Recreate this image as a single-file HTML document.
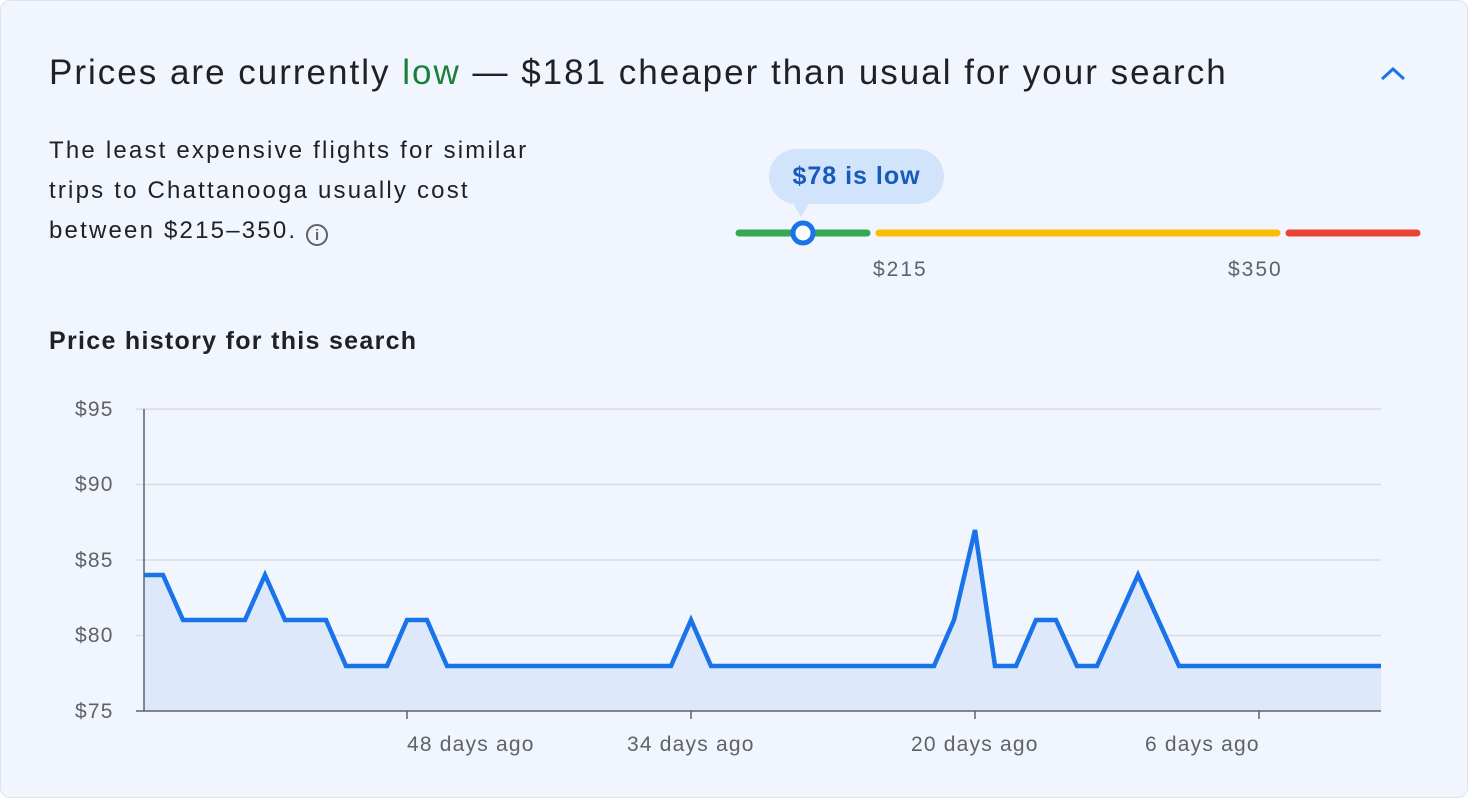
<!DOCTYPE html>
<html><head><meta charset="utf-8"><style>
html,body{margin:0;padding:0;background:#fff;}
.card{position:absolute;left:0;top:0;width:1466px;height:796px;border:1px solid #dfe3ea;border-radius:10px;background:#f1f6fe;font-family:"Liberation Sans",sans-serif;overflow:hidden;}
.t{position:absolute;white-space:nowrap;}
.ax{font-size:21px;color:#5f6368;letter-spacing:1.2px;}
</style></head><body>
<div class="card">
<div class="t" style="left:48px;top:52px;font-size:35px;color:#202124;letter-spacing:2px;">Prices are currently <span style="color:#188038">low</span> — $181 cheaper than usual for your search</div>
<svg style="position:absolute;left:1376px;top:62px" width="32" height="24"><polyline points="5,16 16,6 27,16" fill="none" stroke="#1a73e8" stroke-width="3"/></svg>
<div class="t" style="left:48px;top:130px;font-size:24px;line-height:40px;color:#202124;letter-spacing:2.2px;">The least expensive flights for similar<br>trips to Chattanooga usually cost<br>between $215–350. <span style="display:inline-block;width:22px;height:22px;border:2px solid #5f6368;border-radius:50%;font-size:15px;line-height:19px;text-align:center;vertical-align:-2px;color:#5f6368;box-sizing:border-box;font-weight:bold;letter-spacing:0">i</span></div>
<div class="t" style="left:768px;top:148px;width:175px;height:55px;border-radius:28px;background:#d2e3fc;color:#185abc;font-size:25px;font-weight:bold;line-height:55px;text-align:center;letter-spacing:1px;">$78 is low</div>
<svg style="position:absolute;left:0;top:0" width="1468" height="798">
<polygon points="792,202 808,202 800,216" fill="#d2e3fc"/>
<line x1="738" y1="232" x2="866" y2="232" stroke="#34a853" stroke-width="7" stroke-linecap="round"/>
<line x1="878" y1="232" x2="1276" y2="232" stroke="#fbbc04" stroke-width="7" stroke-linecap="round"/>
<line x1="1288" y1="232" x2="1416" y2="232" stroke="#ea4335" stroke-width="7" stroke-linecap="round"/>
<circle cx="802" cy="232" r="10" fill="#fff" stroke="#1a73e8" stroke-width="5"/>
<g stroke="#dadce0" stroke-width="1.5">
<line x1="135" y1="408" x2="1380" y2="408"/><line x1="135" y1="483.5" x2="1380" y2="483.5"/><line x1="135" y1="559" x2="1380" y2="559"/><line x1="135" y1="634.5" x2="1380" y2="634.5"/>
</g>
<polygon fill="#dde9fa" points="143,710 143,574 162,574 182,619 244,619 264,574 284,619 325,619 345,665 386,665 406,619 426,619 446,665 670,665 690,619 710,665 933,665 953,619 974,529 994,665 1015,665 1035,619 1055,619 1076,665 1096,665 1137,574 1178,665 1380,665 1380,710"/>
<polyline fill="none" stroke="#1a73e8" stroke-width="4.5" stroke-linejoin="miter" points="143,574 162,574 182,619 244,619 264,574 284,619 325,619 345,665 386,665 406,619 426,619 446,665 670,665 690,619 710,665 933,665 953,619 974,529 994,665 1015,665 1035,619 1055,619 1076,665 1096,665 1137,574 1178,665 1380,665"/>
<g stroke="#5f6368" stroke-width="1.5">
<line x1="143" y1="408" x2="143" y2="710"/><line x1="135" y1="710" x2="1380" y2="710"/>
<line x1="406" y1="710" x2="406" y2="718"/><line x1="690" y1="710" x2="690" y2="718"/><line x1="974" y1="710" x2="974" y2="718"/><line x1="1258" y1="710" x2="1258" y2="718"/>
</g>
</svg>
<div class="t" style="left:872px;top:257px;font-size:21px;color:#5f6368;letter-spacing:2px;">$215</div>
<div class="t" style="left:1227px;top:257px;font-size:21px;color:#5f6368;letter-spacing:2px;">$350</div>
<div class="t" style="left:48px;top:326px;font-size:25px;font-weight:bold;color:#202124;letter-spacing:1.3px;">Price history for this search</div>
<div class="t ax" style="left:74px;top:397px;">$95</div>
<div class="t ax" style="left:74px;top:472px;">$90</div>
<div class="t ax" style="left:74px;top:548px;">$85</div>
<div class="t ax" style="left:74px;top:623px;">$80</div>
<div class="t ax" style="left:74px;top:699px;">$75</div>
<div class="t ax" style="left:406px;top:732px;">48 days ago</div>
<div class="t ax" style="left:626px;top:732px;">34 days ago</div>
<div class="t ax" style="left:910px;top:732px;">20 days ago</div>
<div class="t ax" style="left:1144px;top:732px;">6 days ago</div>
</div>
</body></html>
